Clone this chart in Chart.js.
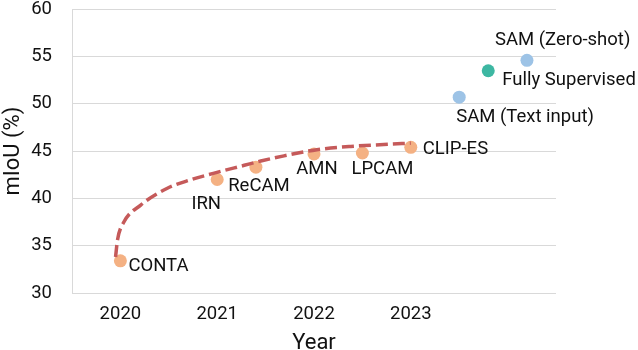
<!DOCTYPE html>
<html>
<head>
<meta charset="utf-8">
<script src="https://cdn.jsdelivr.net/npm/chart.js@4/dist/chart.umd.min.js"></script>
<style>
  html, body { margin: 0; padding: 0; background: #fff; }
  canvas { display: block; }
</style>
</head>
<body>
<canvas id="miouChart" width="638" height="350"></canvas>
<script>
// weakly supervised methods (orange)
const wsNames = ['CONTA', 'IRN', 'ReCAM', 'AMN', 'LPCAM', 'CLIP-ES'];
const wsYears = [2020, 2021, 2021.4, 2022, 2022.5, 2023];
const wsMiou = [33.4, 42.0, 43.3, 44.7, 44.8, 45.4];

// SAM based (blue)
const samNames = ['SAM (Text input)', 'SAM (Zero-shot)'];
const samYears = [2023.5, 2024.2];
const samMiou = [50.7, 54.6];

// fully supervised (teal)
const fullNames = ['Fully Supervised'];
const fullYears = [2023.8];
const fullMiou = [53.5];

// dashed trend curve
const trendYears = [2019.95, 2019.97, 2020.03, 2020.21, 2020.48, 2020.72, 2020.96, 2021.28, 2021.45, 2021.69, 2022.03, 2022.38, 2022.72, 2023.0];
const trendMiou = [33.8, 35.6, 37.4, 39.3, 41.05, 41.95, 42.65, 43.5, 43.95, 44.5, 45.15, 45.5, 45.7, 45.85];

const yearTicks = [2020, 2021, 2022, 2023];

const toPoints = (xs, ys) => xs.map((x, i) => ({ x: x, y: ys[i] }));

const fontFamily = 'Roboto, sans-serif';
const textColor = '#111111';
const gridColor = '#D9D9D9';

// where each name sits next to its dot: [dx, dy, align]
const labelPlacement = {
    'CONTA': [8, 6, 'left'],
    'IRN': [-11, 25, 'center'],
    'ReCAM': [3, 19, 'center'],
    'AMN': [3, 15, 'center'],
    'LPCAM': [20, 16, 'center'],
    'CLIP-ES': [12, 2, 'left'],
    'SAM (Text input)': [-3, 20, 'left'],
    'SAM (Zero-shot)': [-32, -20, 'left'],
    'Fully Supervised': [14, 10, 'left']
};

// draws the method names next to the points
const pointNames = {
    id: 'pointNames',
    afterDatasetsDraw(chart) {
        const ctx = chart.ctx;
        ctx.save();
        ctx.font = '18.5px ' + fontFamily;
        ctx.fillStyle = textColor;
        ctx.textBaseline = 'middle';
        chart.data.datasets.forEach((ds, di) => {
            if (!ds.names) return;
            chart.getDatasetMeta(di).data.forEach((pt, i) => {
                const name = ds.names[i];
                const p = labelPlacement[name] || [8, 0, 'left'];
                ctx.textAlign = p[2];
                ctx.fillText(name, pt.x + p[0], pt.y + p[1]);
            });
        });
        ctx.restore();
    }
};

new Chart(document.getElementById('miouChart'), {
    type: 'scatter',
    data: {
        datasets: [{
            label: 'trend',
            data: toPoints(trendYears, trendMiou),
            showLine: true,
            borderColor: '#C55A5A',
            borderWidth: 3.5,
            borderDash: [12, 5],
            cubicInterpolationMode: 'monotone',
            pointRadius: 0,
            order: 0
        }, {
            label: 'weakly',
            names: wsNames,
            data: toPoints(wsYears, wsMiou),
            backgroundColor: '#F4B183',
            borderWidth: 0,
            pointRadius: 6.5,
            order: 1
        }, {
            label: 'sam',
            names: samNames,
            data: toPoints(samYears, samMiou),
            backgroundColor: '#9DC3E6',
            borderWidth: 0,
            pointRadius: 6.5,
            order: 1
        }, {
            label: 'full',
            names: fullNames,
            data: toPoints(fullYears, fullMiou),
            backgroundColor: '#3DB7A2',
            borderWidth: 0,
            pointRadius: 6.5,
            order: 1
        }]
    },
    options: {
        responsive: false,
        animation: false,
        devicePixelRatio: 1,
        layout: { autoPadding: false, padding: { top: 0, right: 82, bottom: 0, left: 0 } },
        scales: {
            x: {
                type: 'linear',
                min: 2019.5,
                max: 2024.5,
                afterBuildTicks: (scale) => {
                    scale.ticks = yearTicks.map(v => ({ value: v }));
                },
                afterFit: (scale) => { scale.height = 57; },
                grid: { display: false, drawTicks: false },
                border: { display: false },
                ticks: {
                    padding: 12,
                    color: textColor,
                    font: { family: fontFamily, size: 18.5, lineHeight: 1 },
                    callback: (v) => String(v)
                },
                title: {
                    display: true,
                    text: 'Year',
                    color: textColor,
                    padding: 0,
                    font: { family: fontFamily, size: 22, lineHeight: 0.6 }
                }
            },
            y: {
                min: 30,
                max: 60,
                afterFit: (scale) => { scale.width = 72; },
                grid: { color: gridColor, drawTicks: true, tickLength: 20, tickColor: 'rgba(0,0,0,0)' },
                border: { color: gridColor, width: 1 },
                ticks: {
                    stepSize: 5,
                    padding: 0,
                    color: textColor,
                    font: { family: fontFamily, size: 18.5, lineHeight: 1 }
                },
                title: {
                    display: true,
                    text: 'mIoU (%)',
                    color: textColor,
                    padding: 0,
                    font: { family: fontFamily, size: 22, lineHeight: 1.2 }
                }
            }
        },
        plugins: {
            legend: { display: false },
            title: { display: false },
            tooltip: { enabled: false }
        }
    },
    plugins: [pointNames]
});
</script>
</body>
</html>
